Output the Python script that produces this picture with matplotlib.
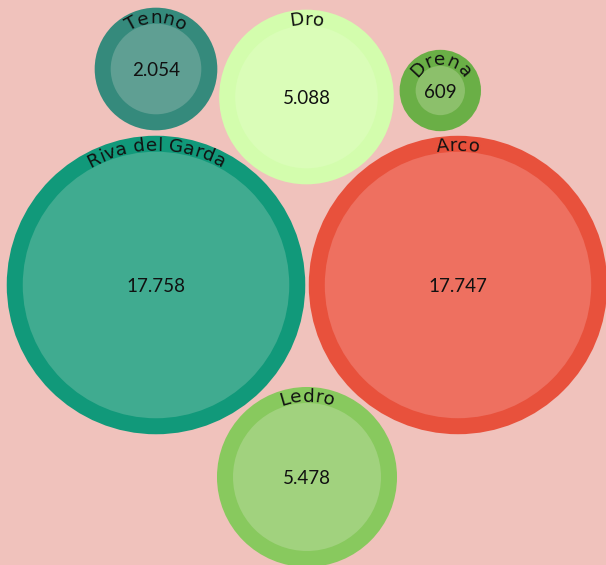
import numpy as np
import matplotlib
matplotlib.use("Agg")
import matplotlib.pyplot as plt
from matplotlib.patches import Circle
from matplotlib.font_manager import FontProperties, findfont, get_font

# --- data ---
names = ["Tenno", "Dro", "Drena", "Riva del Garda", "Arco", "Ledro"]
values = [2054, 5088, 609, 17758, 17747, 5478]

# --- layout (packed positions, pixels) and styles ---
centers = [(156, 69), (306.5, 97), (440.3, 90.5), (156, 285), (458, 285), (307, 477)]
edge_colors = ["#358a7c", "#d3fdad", "#6aaf46", "#11997a", "#e8513c", "#88c95e"]
fill_colors = ["#5f9f93", "#dafdb8", "#8cc06b", "#40ab90", "#ee7060", "#a1d27e"]
BG = "#f0c2bc"
RING = 16          # ring width in px
W, H, DPI = 606, 565, 100

fig = plt.figure(figsize=(W / DPI, H / DPI), dpi=DPI, facecolor=BG)
ax = fig.add_axes([0, 0, 1, 1])
ax.set_xlim(0, W)
ax.set_ylim(H, 0)
ax.set_aspect("equal")
ax.axis("off")

num_prop = FontProperties(family="Lato", size=13.5)
lab_prop = FontProperties(family="DejaVu Sans", size=13.3)
ft = get_font(findfont(lab_prop))
ft.set_size(lab_prop.get_size_in_points(), DPI)


def advances(s):
    out = []
    for ch in s:
        g = ft.load_char(ord(ch))
        out.append(g.linearHoriAdvance / 65536)
    return np.array(out)


def curved_label(s, cx, cy, R):
    adv = advances(s)
    total = adv.sum()
    start = np.concatenate([[0], np.cumsum(adv)[:-1]])
    for ch, a, c0 in zip(s, adv, start):
        phi = (c0 + a / 2 - total / 2) / R
        x = cx + R * np.sin(phi)
        y = cy - R * np.cos(phi)
        ax.text(x, y, ch, fontproperties=lab_prop, color="#111111",
                ha="center", va="baseline", rotation=-np.degrees(phi),
                rotation_mode="anchor")


lw_pt = RING * 72 / DPI
for name, v, (cx, cy), ec, fc in zip(names, values, centers, edge_colors, fill_colors):
    r = np.sqrt(v)
    ax.add_patch(Circle((cx, cy), r + RING / 2, facecolor=fc, edgecolor=ec,
                        linewidth=lw_pt))
    ax.text(cx, cy + 7, f"{v:,}".replace(",", "."), fontproperties=num_prop,
            color="#111111", ha="center", va="baseline")
    curved_label(name, cx, cy, r + 1)

fig.savefig("out.png", dpi=DPI, facecolor=BG)
